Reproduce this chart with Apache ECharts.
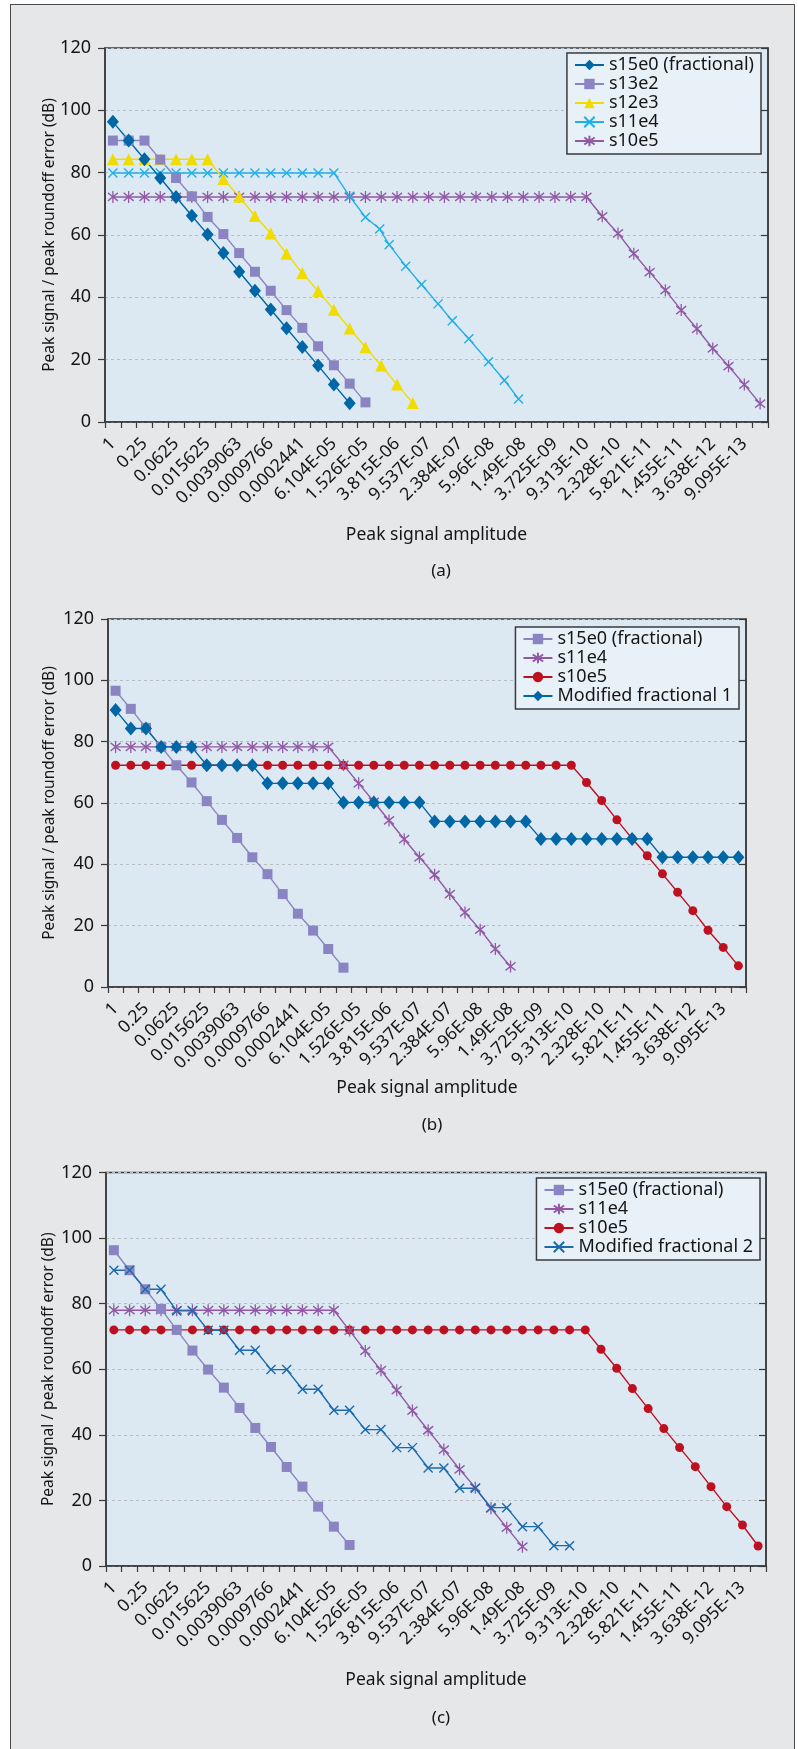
<!DOCTYPE html>
<html>
<head>
<meta charset="utf-8">
<script src="https://cdn.jsdelivr.net/npm/echarts@6/dist/echarts.min.js"></script>
<style>
  html, body { margin:0; padding:0; background:#ffffff; }
  body { width:798px; height:1749px; position:relative; overflow:hidden; }
  #frame { position:absolute; left:10px; top:4px; width:785px; height:1770px; box-sizing:border-box;
           background:#e6e7e9; border:1.5px solid #4a4a4a; }
  .panel { position:absolute; left:0; width:798px; }
</style>
</head>
<body>
<div id="frame"></div>
<div id="pa" class="panel" style="top:0px;height:590px;"></div>
<div id="pb" class="panel" style="top:590px;height:550px;"></div>
<div id="pc" class="panel" style="top:1140px;height:609px;"></div>
<script>
// ---------- categories (peak signal amplitude, 2^0 ... 2^-41) ----------
const categories = ['1','0.5','0.25','0.125','0.0625','0.03125','0.015625','0.0078125','0.0039063','0.0019531',
  '0.0009766','0.0004883','0.0002441','0.0001221','6.104E-05','3.052E-05','1.526E-05','7.629E-06','3.815E-06','1.907E-06',
  '9.537E-07','4.768E-07','2.384E-07','1.192E-07','5.96E-08','2.98E-08','1.49E-08','7.451E-09','3.725E-09','1.863E-09',
  '9.313E-10','4.657E-10','2.328E-10','1.164E-10','5.821E-11','2.91E-11','1.455E-11','7.276E-12','3.638E-12','1.819E-12',
  '9.095E-13','4.547E-13'];
const yTicks = [0, 20, 40, 60, 80, 100, 120];

// ---------- panel (a) ----------
const a_s15e0 = [96.3, 90.3, 84.3, 78.3, 72.2, 66.2, 60.2, 54.2, 48.2, 42.1, 36.1, 30.1, 24.1, 18.1, 12.0, 6.0];
const a_s13e2 = [90.3, 90.3, 90.3, 84.2, 78.3, 72.4, 65.8, 60.3, 54.2, 48.2, 42.1, 35.9, 30.2, 24.3, 18.2, 12.3, 6.3];
const a_s12e3 = [84.3, 84.3, 84.3, 84.3, 84.3, 84.3, 84.3, 78.0, 72.3, 66.1, 60.5, 54.0, 47.8, 42.0, 36.0, 30.0, 24.0, 18.1, 12.0, 6.1];
const a_s11e4_pos = [0, 1, 2, 3, 4, 5, 6, 7, 8, 9, 10, 11, 12, 13, 14, 15, 16, 16.9, 17.5, 18.55, 19.55, 20.6, 21.5, 22.55, 23.8, 24.8, 25.7];
const a_s11e4 = [79.9, 79.9, 79.9, 79.9, 79.9, 79.9, 79.9, 79.9, 79.9, 79.9, 79.9, 79.9, 79.9, 79.9, 79.9,
  72.4, 65.7, 61.9, 56.9, 50.0, 44.1, 37.9, 32.5, 26.7, 19.3, 13.4, 7.4];
const a_s10e5 = [72.2, 72.2, 72.2, 72.2, 72.2, 72.2, 72.2, 72.2, 72.2, 72.2, 72.2, 72.2, 72.2, 72.2, 72.2, 72.2,
  72.2, 72.2, 72.2, 72.2, 72.2, 72.2, 72.2, 72.2, 72.2, 72.2, 72.2, 72.2, 72.2, 72.2, 72.2,
  66.0, 60.5, 54.0, 48.1, 42.3, 35.9, 29.9, 23.6, 17.9, 12.0, 5.9];

// ---------- panel (b) ----------
const b_s15e0 = [96.6, 90.7, 84.5, 78.3, 72.3, 66.7, 60.6, 54.5, 48.6, 42.3, 36.8, 30.3, 23.9, 18.4, 12.4, 6.3];
const b_s11e4 = [78.3, 78.3, 78.3, 78.3, 78.3, 78.3, 78.3, 78.3, 78.3, 78.3, 78.3, 78.3, 78.3, 78.3, 78.3,
  72.4, 66.4, 60.4, 54.3, 48.2, 42.3, 36.6, 30.3, 24.3, 18.7, 12.4, 6.7];
const b_s10e5 = [72.3, 72.3, 72.3, 72.3, 72.3, 72.3, 72.3, 72.3, 72.3, 72.3, 72.3, 72.3, 72.3, 72.3, 72.3, 72.3,
  72.3, 72.3, 72.3, 72.3, 72.3, 72.3, 72.3, 72.3, 72.3, 72.3, 72.3, 72.3, 72.3, 72.3, 72.3,
  66.7, 60.8, 54.5, 48.4, 42.8, 36.9, 30.9, 24.9, 18.5, 12.9, 6.9];
const b_mod1 = [90.3, 84.3, 84.3, 78.3, 78.3, 78.3, 72.3, 72.3, 72.3, 72.3,
  66.4, 66.4, 66.4, 66.4, 66.4, 60.2, 60.2, 60.2, 60.2, 60.2, 60.2,
  54.0, 54.0, 54.0, 54.0, 54.0, 54.0, 54.0, 48.3, 48.3, 48.3, 48.3, 48.3, 48.3, 48.3, 48.3,
  42.3, 42.3, 42.3, 42.3, 42.3, 42.3];

// ---------- panel (c) ----------
const c_s15e0 = [96.3, 90.2, 84.4, 78.4, 72.0, 65.7, 59.9, 54.4, 48.2, 42.1, 36.3, 30.2, 24.2, 18.1, 12.0, 6.4];
const c_s11e4 = [78.0, 78.0, 78.0, 78.0, 78.0, 78.0, 78.0, 78.0, 78.0, 78.0, 78.0, 78.0, 78.0, 78.0, 78.0,
  71.8, 65.6, 59.7, 53.6, 47.4, 41.4, 35.5, 29.5, 23.9, 17.6, 11.7, 5.9];
const c_s10e5 = [72.0, 72.0, 72.0, 72.0, 72.0, 72.0, 72.0, 72.0, 72.0, 72.0, 72.0, 72.0, 72.0, 72.0, 72.0, 72.0,
  72.0, 72.0, 72.0, 72.0, 72.0, 72.0, 72.0, 72.0, 72.0, 72.0, 72.0, 72.0, 72.0, 72.0, 72.0,
  66.1, 60.3, 54.1, 48.0, 41.9, 36.1, 30.3, 24.2, 18.1, 12.5, 6.1];
const c_mod2 = [90.2, 90.2, 84.4, 84.4, 77.8, 77.8, 71.9, 71.9, 65.8, 65.8, 59.9, 59.9, 53.9, 53.9, 47.5, 47.5,
  41.6, 41.6, 36.1, 36.1, 29.9, 29.9, 23.7, 23.7, 17.8, 17.8, 12.0, 12.0, 6.2, 6.2];

// ---------- styling ----------
const FONT = 'Noto Sans';
const TXT = '#151515';
const AX = '#3a3a3a';
const SYM_X = 'path://M0,0L10,10M10,0L0,10';
const SYM_STAR = 'path://M1,2L9,10M9,2L1,10M5,0L5,12';
const STY = {
  diamond: { symbol: 'diamond', size: [12, 14], color: '#0067a6', bw: 0 },
  square:  { symbol: 'rect', size: 10, color: '#8b84c2', bw: 0 },
  triangle:{ symbol: 'triangle', size: [12, 12], color: '#f0dc00', bw: 0 },
  cyanX:   { symbol: SYM_X, size: 9, color: '#1eb0e6', bw: 1.4 },
  star:    { symbol: SYM_STAR, size: [10, 12], color: '#9159a4', bw: 1.4 },
  redDot:  { symbol: 'circle', size: 9, color: '#be1120', bw: 0 },
  blueX:   { symbol: SYM_X, size: 9, color: '#1c6aab', bw: 1.4 }
};

function ser(name, data, st, extra) {
  return Object.assign({
    type: 'line', name: name, data: data,
    symbol: st.symbol, symbolSize: st.size, showAllSymbol: true,
    lineStyle: { color: st.color, width: 1.4 },
    itemStyle: { color: st.color, borderColor: st.color, borderWidth: st.bw },
    emphasis: { disabled: true }, silent: true
  }, extra || {});
}

function panelOption(p) {
  return {
    animation: false,
    textStyle: { fontFamily: FONT },
    title: { text: p.caption, left: p.capX, top: p.capTop, textAlign: 'center',
      textStyle: { fontSize: 17, fontWeight: 'normal', color: TXT, fontFamily: FONT } },
    legend: { orient: 'vertical', right: p.legRight, top: p.legTop, align: 'left',
      data: p.legendNames, selectedMode: false,
      backgroundColor: '#e9f1f8', borderColor: AX, borderWidth: 1.5, borderRadius: 0,
      padding: [3, 7, 4, 7], itemGap: 1, itemWidth: 29, itemHeight: 13,
      textStyle: { fontSize: 18, color: TXT, fontFamily: FONT, lineHeight: 18 } },
    grid: { left: p.left, right: p.right, top: p.top, height: p.height, show: true,
      backgroundColor: '#dce9f3', borderColor: AX, borderWidth: 1.5 },
    xAxis: [{
      type: 'category', data: categories, boundaryGap: true,
      name: 'Peak signal amplitude', nameLocation: 'middle', nameGap: p.xNameGap,
      nameTextStyle: { fontSize: 17.5, color: TXT, fontFamily: FONT },
      axisLine: { onZero: false, lineStyle: { color: AX, width: 1.5 } },
      axisTick: { show: true, interval: 0, length: 6, lineStyle: { color: AX, width: 1.2 } },
      axisLabel: { interval: 1, rotate: 45, fontSize: 17.5, color: TXT, margin: 19, fontFamily: FONT },
      splitLine: { show: false }
    }, {
      type: 'value', min: -0.5, max: categories.length - 0.5, show: false,
      axisLine: { onZero: false }
    }],
    yAxis: [{
      type: 'value', min: yTicks[0], max: yTicks[yTicks.length - 1], interval: yTicks[1] - yTicks[0],
      name: 'Peak signal / peak roundoff error (dB)', nameLocation: 'middle', nameGap: p.yNameGap,
      nameMoveOverlap: false,
      nameTextStyle: { fontSize: 15.5, color: TXT, fontFamily: FONT },
      axisLine: { show: true, onZero: false, lineStyle: { color: AX, width: 1.5 } },
      axisTick: { show: true, length: 7, lineStyle: { color: AX, width: 1.2 } },
      axisLabel: { fontSize: 18, color: TXT, margin: 14, fontFamily: FONT },
      splitLine: { show: true, lineStyle: { type: [3, 3], color: '#b9bdc1', width: 1 } }
    }, {
      type: 'value', min: yTicks[0], max: yTicks[yTicks.length - 1], interval: yTicks[1] - yTicks[0],
      position: 'right',
      axisLine: { show: true, onZero: false, lineStyle: { color: AX, width: 1.5 } },
      axisTick: { show: true, inside: true, length: 7, lineStyle: { color: AX, width: 1.2 } },
      axisLabel: { show: false }, splitLine: { show: false }
    }],
    series: p.series
  };
}

const chartA = echarts.init(document.getElementById('pa'), null, { renderer: 'canvas' });
chartA.setOption(panelOption({
  caption: '(a)', capX: 436, capTop: 558,
  left: 105, right: 30, top: 48, height: 374, xNameGap: 104, yNameGap: 47,
  legRight: 37, legTop: 53,
  legendNames: ['s15e0 (fractional)', 's13e2', 's12e3', 's11e4', 's10e5'],
  series: [
    ser('s10e5', a_s10e5, STY.star),
    ser('s11e4', a_s11e4_pos.map((x, i) => [x, a_s11e4[i]]), STY.cyanX, { xAxisIndex: 1 }),
    ser('s12e3', a_s12e3, STY.triangle),
    ser('s13e2', a_s13e2, STY.square),
    ser('s15e0 (fractional)', a_s15e0, STY.diamond)
  ]
}));

const chartB = echarts.init(document.getElementById('pb'), null, { renderer: 'canvas' });
chartB.setOption(panelOption({
  caption: '(b)', capX: 427, capTop: 522,
  left: 108, right: 52, top: 29, height: 368, xNameGap: 91, yNameGap: 50,
  legRight: 59, legTop: 37,
  legendNames: ['s15e0 (fractional)', 's11e4', 's10e5', 'Modified fractional 1'],
  series: [
    ser('s10e5', b_s10e5, STY.redDot),
    ser('s11e4', b_s11e4, STY.star),
    ser('s15e0 (fractional)', b_s15e0, STY.square),
    ser('Modified fractional 1', b_mod1, STY.diamond)
  ]
}));

const chartC = echarts.init(document.getElementById('pc'), null, { renderer: 'canvas' });
chartC.setOption(panelOption({
  caption: '(c)', capX: 436, capTop: 565,
  left: 106, right: 32, top: 32.5, height: 393.5, xNameGap: 105, yNameGap: 49,
  legRight: 38, legTop: 38,
  legendNames: ['s15e0 (fractional)', 's11e4', 's10e5', 'Modified fractional 2'],
  series: [
    ser('s10e5', c_s10e5, STY.redDot),
    ser('s11e4', c_s11e4, STY.star),
    ser('s15e0 (fractional)', c_s15e0, STY.square),
    ser('Modified fractional 2', c_mod2, STY.blueX)
  ]
}));
</script>
</body>
</html>
